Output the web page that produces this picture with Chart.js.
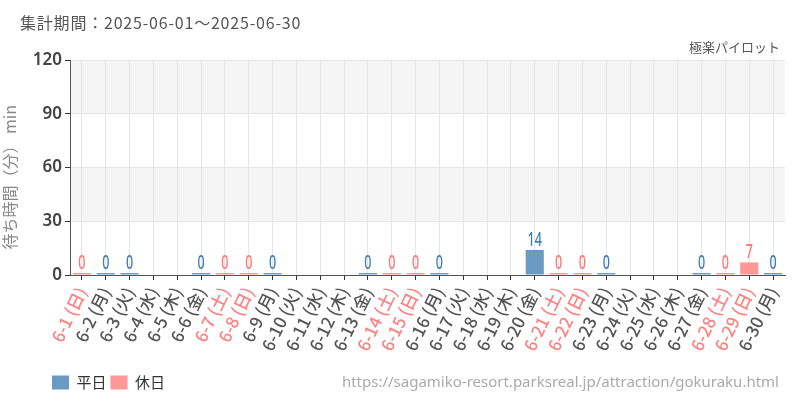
<!DOCTYPE html>
<html lang="ja">
<head>
    <meta charset="UTF-8">
    <title>極楽パイロット 待ち時間</title>
    <script src="https://cdn.jsdelivr.net/npm/chart.js"></script>
    <style>
        body { margin: 0; font-family: 'Noto Sans CJK JP', 'Noto Sans', sans-serif; }
        #wrap { position: relative; width: 800px; height: 400px; }
        .period { position: absolute; left: 20px; top: 10px; font-size: 16px; letter-spacing: 0.8px; color: #555; }
        .attr { position: absolute; right: 20px; top: 37px; font-size: 13px; color: #555; }
        .src { position: absolute; right: 21px; top: 371px; font-size: 15px; color: #aaa; font-family: 'Noto Sans', sans-serif; }
    </style>
</head>
<body>
<div id="wrap">
    <canvas id="waitChart" width="800" height="400"></canvas>
    <div class="period">集計期間：2025-06-01～2025-06-30</div>
    <div class="attr">極楽パイロット</div>
    <div class="src">https://sagamiko-resort.parksreal.jp/attraction/gokuraku.html</div>
</div>

<script>
// 日付ラベル（2025年6月）
const days = [
    "6-1 (日)", "6-2 (月)", "6-3 (火)", "6-4 (水)", "6-5 (木)", "6-6 (金)", "6-7 (土)",
    "6-8 (日)", "6-9 (月)", "6-10 (火)", "6-11 (水)", "6-12 (木)", "6-13 (金)", "6-14 (土)",
    "6-15 (日)", "6-16 (月)", "6-17 (火)", "6-18 (水)", "6-19 (木)", "6-20 (金)", "6-21 (土)",
    "6-22 (日)", "6-23 (月)", "6-24 (火)", "6-25 (水)", "6-26 (木)", "6-27 (金)", "6-28 (土)",
    "6-29 (日)", "6-30 (月)"
];

// 平日の待ち時間（分） null = データなし
const weekdayWait = [
    null, 0, 0, null, null, 0, null,
    null, 0, null, null, null, 0, null,
    null, 0, null, null, null, 14, null,
    null, 0, null, null, null, 0, null,
    null, 0
];

// 休日の待ち時間（分）
const holidayWait = [
    0, null, null, null, null, null, 0,
    0, null, null, null, null, null, 0,
    0, null, null, null, null, null, 0,
    0, null, null, null, null, null, 0,
    7, null
];

const yTicks = [0, 30, 60, 90, 120];

const isHoliday = label => label.includes('(土)') || label.includes('(日)');

// 背景の縞模様
const bandPlugin = {
    id: 'bands',
    beforeDraw(chart) {
        const { ctx, chartArea, scales } = chart;
        ctx.save();
        ctx.fillStyle = '#f5f5f5';
        [[90, 120], [30, 60]].forEach(([lo, hi]) => {
            const top = scales.y.getPixelForValue(hi);
            const bottom = scales.y.getPixelForValue(lo);
            ctx.fillRect(chartArea.left, top, chartArea.right - chartArea.left, bottom - top);
        });
        ctx.restore();
    }
};

// 棒の上に値を表示（縦長の数字）
const valueLabelPlugin = {
    id: 'valueLabels',
    afterDatasetsDraw(chart) {
        const ctx = chart.ctx;
        chart.data.datasets.forEach((ds, i) => {
            const meta = chart.getDatasetMeta(i);
            meta.data.forEach((bar, j) => {
                const v = ds.data[j];
                if (v === null || v === undefined) return;
                ctx.save();
                ctx.translate(bar.x, bar.y);
                ctx.scale(0.66, 1);
                ctx.font = "500 19px 'Noto Sans', sans-serif";
                ctx.fillStyle = ds.labelColor;
                ctx.textAlign = 'center';
                ctx.textBaseline = 'bottom';
                ctx.fillText(String(v), 0, 0);
                ctx.restore();
            });
        });
    }
};

// 凡例を左へ寄せる
const legendShift = {
    id: 'legendShift',
    afterLayout(chart) {
        chart.legend.left = 48;
    }
};

Chart.defaults.font.family = "'Noto Sans CJK JP', 'Noto Sans', sans-serif";

const ctx = document.getElementById('waitChart').getContext('2d');
new Chart(ctx, {
    type: 'bar',
    data: {
        labels: days,
        datasets: [
            {
                label: '平日',
                data: weekdayWait,
                backgroundColor: '#6b9bc4',
                labelColor: '#3f7db5',
                barPercentage: 0.76,
                categoryPercentage: 1.0,
                minBarLength: 2
            },
            {
                label: '休日',
                data: holidayWait,
                backgroundColor: '#ff9797',
                labelColor: '#ff7676',
                barPercentage: 0.76,
                categoryPercentage: 1.0,
                minBarLength: 2
            }
        ]
    },
    options: {
        responsive: false,
        animation: false,
        layout: { padding: { top: 60, right: 15, bottom: 0, left: 0 } },
        plugins: {
            tooltip: { enabled: false },
            legend: {
                position: 'bottom',
                align: 'start',
                labels: {
                    boxWidth: 17,
                    boxHeight: 14,
                    padding: 4,
                    color: '#333',
                    font: { size: 15 }
                }
            }
        },
        scales: {
            x: {
                stacked: true,
                afterFit(scale) { scale.height = 96; },
                grid: {
                    offset: false,
                    color: '#e5e5e5',
                    tickColor: '#333',
                    tickLength: 5
                },
                border: { color: '#555' },
                ticks: {
                    autoSkip: false,
                    minRotation: 64,
                    maxRotation: 64,
                    padding: 4,
                    font: { size: 17, weight: '500' },
                    color: c => isHoliday(days[c.index]) ? '#ff8080' : '#555'
                }
            },
            y: {
                stacked: true,
                min: 0,
                max: 120,
                afterFit(scale) { scale.width = 70; },
                afterBuildTicks(scale) { scale.ticks = yTicks.map(v => ({ value: v })); },
                grid: {
                    color: '#e5e5e5',
                    tickColor: '#333',
                    tickLength: 5
                },
                border: { color: '#555' },
                ticks: {
                    color: '#444',
                    font: { size: 17, weight: '600', family: "'Noto Sans', sans-serif" }
                },
                title: {
                    display: true,
                    text: '待ち時間（分） min\u3000 ',
                    color: '#888',
                    font: { size: 16 },
                    padding: { top: 0, bottom: 2 }
                }
            }
        }
    },
    plugins: [bandPlugin, valueLabelPlugin, legendShift]
});
</script>
</body>
</html>
